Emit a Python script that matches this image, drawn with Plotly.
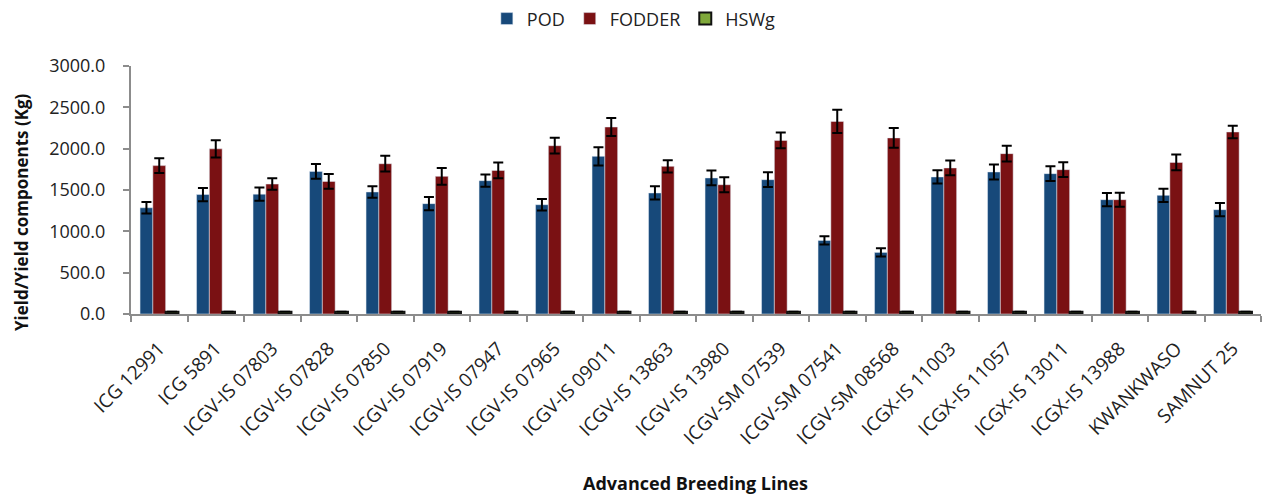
import plotly.graph_objects as go

categories = ["ICG 12991", "ICG 5891", "ICGV-IS 07803", "ICGV-IS 07828", "ICGV-IS 07850",
              "ICGV-IS 07919", "ICGV-IS 07947", "ICGV-IS 07965", "ICGV-IS 09011", "ICGV-IS 13863",
              "ICGV-IS 13980", "ICGV-SM 07539", "ICGV-SM 07541", "ICGV-SM 08568", "ICGX-IS 11003",
              "ICGX-IS 11057", "ICGX-IS 13011", "ICGX-IS 13988", "KWANKWASO", "SAMNUT 25"]

pod = [1285, 1445, 1450, 1725, 1476, 1335, 1613, 1322, 1907, 1464,
       1646, 1625, 890, 745, 1658, 1718, 1698, 1383, 1435, 1262]
pod_err = [70, 80, 80, 90, 70, 80, 75, 70, 110, 80,
           90, 90, 50, 50, 80, 90, 90, 80, 80, 80]

fodder = [1795, 1998, 1572, 1604, 1818, 1665, 1737, 2036, 2262, 1786,
          1564, 2100, 2330, 2130, 1767, 1940, 1746, 1383, 1834, 2202]
fodder_err = [90, 105, 70, 90, 95, 100, 95, 95, 110, 75,
              90, 95, 140, 120, 90, 95, 90, 85, 95, 75]

hswg = [28] * 20
hswg_err = [2] * 20

y_ticks = [0, 500, 1000, 1500, 2000, 2500, 3000]
y_tick_labels = ["0.0", "500.0", "1000.0", "1500.0", "2000.0", "2500.0", "3000.0"]

font_family = "Open Sans, Lato, sans-serif"

fig = go.Figure()
fig.add_trace(go.Bar(name="POD", x=categories, y=pod, marker_color="#17497A",
                     error_y=dict(type="data", array=pod_err, color="black", thickness=2, width=5)))
fig.add_trace(go.Bar(name="FODDER", x=categories, y=fodder, marker_color="#7A1113",
                     error_y=dict(type="data", array=fodder_err, color="black", thickness=2, width=5)))
fig.add_trace(go.Bar(name="HSWg", x=categories, y=hswg,
                     marker=dict(color="#7FA83A", line=dict(color="#111111", width=2)),
                     error_y=dict(type="data", array=hswg_err, color="black", thickness=1.5, width=5)))

L, R, T, B = 131, 3, 66, 183
W, H = 1264, 497
pw, ph = W - L - R, H - T - B

fig.update_layout(
    width=W, height=H,
    paper_bgcolor="white", plot_bgcolor="white",
    barmode="group", bargap=0.32, bargroupgap=0,
    margin=dict(l=L, r=R, t=T, b=B, autoexpand=False),
    font=dict(family=font_family, color="#222222"),
    showlegend=True,
    legend=dict(orientation="h", x=0.445, xanchor="center", y=1.19, yanchor="middle",
                font=dict(size=18, color="#222222"), itemwidth=30, traceorder="normal"),
    xaxis=dict(
        type="category", tickangle=-45, tickfont=dict(size=19, color="#222222"),
        ticklabelstandoff=14,
        showline=True, linecolor="#8c8c8c", linewidth=2,
        ticks="outside", tickson="boundaries", ticklen=6, tickcolor="#8c8c8c", tickwidth=1.5,
        showgrid=False, automargin=False,
    ),
    yaxis=dict(
        range=[0, 3000], tickvals=y_ticks, ticktext=y_tick_labels,
        tickfont=dict(size=18, color="#222222"), ticklabelstandoff=14,
        showline=True, linecolor="#8c8c8c", linewidth=2,
        ticks="outside", ticklen=6, tickcolor="#8c8c8c", tickwidth=1.5,
        showgrid=False, zeroline=False, automargin=False,
    ),
    annotations=[
        dict(text="<b>Advanced Breeding Lines</b>", xref="paper", yref="paper",
             x=(695 - L) / pw, y=(T + ph - 483) / ph, xanchor="center", yanchor="middle",
             showarrow=False, font=dict(size=18, color="#111111")),
        dict(text="<b>Yield/Yield components (Kg)</b>", xref="paper", yref="paper",
             x=(22 - L) / pw, y=(T + ph - 212) / ph, xanchor="center", yanchor="middle",
             textangle=-90, showarrow=False, font=dict(size=17, color="#111111")),
    ],
)

fig.write_html("out.html", config={"displayModeBar": False},
               post_script="document.body.style.margin='0px';")
